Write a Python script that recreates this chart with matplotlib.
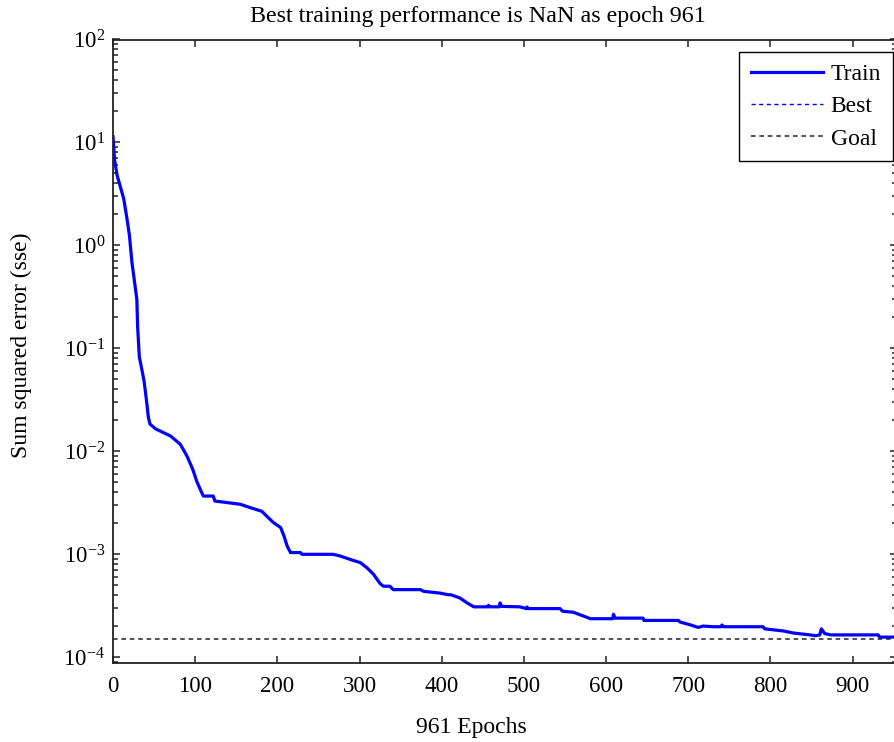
import matplotlib
matplotlib.use("Agg")
import matplotlib.pyplot as plt
from matplotlib.ticker import LogLocator, NullFormatter

plt.rcParams['font.family'] = ['Liberation Serif', 'DejaVu Serif']
plt.rcParams['mathtext.fontset'] = 'custom'
plt.rcParams['mathtext.rm'] = 'Liberation Serif'

# training record
epochs = [0, 2, 5, 9, 13, 17, 20, 23, 26, 29, 30, 32, 35, 38, 41, 43, 45, 52, 57, 70,
          82, 90, 97, 102, 106, 110, 122, 124, 143, 155, 167, 181, 187, 195, 204, 208,
          212, 216, 228, 230, 268, 277, 289, 301, 309, 317, 325, 329, 337, 341, 374,
          378, 398, 408, 411, 422, 431, 439, 456, 457, 458, 470, 471, 473, 495, 503,
          504, 505, 544, 547, 560, 571, 581, 608, 609, 611, 645, 646, 688, 690, 702,
          712, 718, 731, 740, 741, 743, 791, 793, 816, 828, 848, 855, 860, 862, 866,
          873, 931, 933, 961]
sse = [11.4, 6.7, 4.8, 3.7, 2.85, 1.82, 1.25, 0.69, 0.455, 0.30, 0.16, 0.083, 0.063,
       0.047, 0.030, 0.0215, 0.0184, 0.0165, 0.0158, 0.0141, 0.0117, 0.0090, 0.0067,
       0.0051, 0.0043, 0.00368, 0.00368, 0.00329, 0.00315, 0.00306, 0.00284, 0.00262,
       0.00235, 0.00204, 0.00182, 0.00151, 0.0012, 0.00104, 0.00104, 0.00100, 0.00100,
       0.00096, 0.00089, 0.00083, 0.00074, 0.00064, 0.00052, 0.00049, 0.00049,
       0.000454, 0.000454, 0.000437, 0.00042, 0.000405, 0.000405, 0.000377, 0.000337,
       0.000309, 0.000309, 0.00032, 0.000309, 0.000309, 0.000337, 0.000312, 0.000309,
       0.000297, 0.000308, 0.000297, 0.000297, 0.00028, 0.000274, 0.000254, 0.000237,
       0.000237, 0.000262, 0.000240, 0.000240, 0.000228, 0.000228, 0.00022, 0.000207,
       0.000195, 0.000201, 0.000198, 0.000198, 0.000206, 0.000198, 0.000198, 0.000189,
       0.00018, 0.000172, 0.000165, 0.000162, 0.000165, 0.000189, 0.00017, 0.000165,
       0.000165, 0.000157, 0.000157]
goal = 1.5e-4
n_epochs = 961
x_ticks = [0, 100, 200, 300, 400, 500, 600, 700, 800, 900]

fig = plt.figure(figsize=(8.95, 7.42), dpi=100)
ax = fig.add_axes([113 / 895, 79 / 742, 784 / 895, 623.5 / 742])

ax.semilogy(epochs, sse, color='#0000ff', lw=2.3, label='Train')
ax.plot([], [], color='#0000ff', lw=1.0, ls=(0, (3, 2.5)), label='Best')
ax.plot([0, n_epochs], [goal, goal], color='#222222', lw=1.1, ls=(0, (3, 2.5)), label='Goal')

ax.set_xlim(0, 954)
ax.set_ylim(8.8e-5, 100)
ax.set_xticks(x_ticks)
ax.yaxis.set_major_locator(LogLocator(base=10, numticks=10))
ax.yaxis.set_minor_locator(LogLocator(base=10, subs=range(2, 10), numticks=20))
ax.yaxis.set_minor_formatter(NullFormatter())

for s in ax.spines.values():
    s.set_linewidth(1.3)
    s.set_color('#222222')
ax.tick_params(which='both', direction='in', top=True, right=True, colors='#222222',
               labelcolor='black', labelsize=16.5, width=1.1)
ax.tick_params(which='major', length=5.3)
ax.tick_params(which='minor', length=3.4)
ax.tick_params(axis='y', pad=5.8)
ax.tick_params(axis='x', pad=9.5)

leg = ax.legend(loc='upper right', bbox_to_anchor=(892.7 / 895, (742 - 52) / 742),
                bbox_transform=fig.transFigure, borderaxespad=0, fontsize=17,
                handlelength=3.05, handletextpad=0.33, labelspacing=0.45,
                borderpad=0.5, fancybox=False, framealpha=1)
leg.get_frame().set_edgecolor('black')
leg.get_frame().set_linewidth(1.0)

fig.text(478 / 895, 720 / 742, 'Best training performance is NaN as epoch 961',
         ha='center', va='baseline', fontsize=17.3)
fig.text(471 / 895, 9 / 742, '961 Epochs', ha='center', va='baseline', fontsize=17)
fig.text(21.7 / 895, (742 - 345) / 742, 'Sum squared error (sse)', rotation=90,
         ha='center', va='center', fontsize=17)

fig.savefig('out.png', dpi=100)
